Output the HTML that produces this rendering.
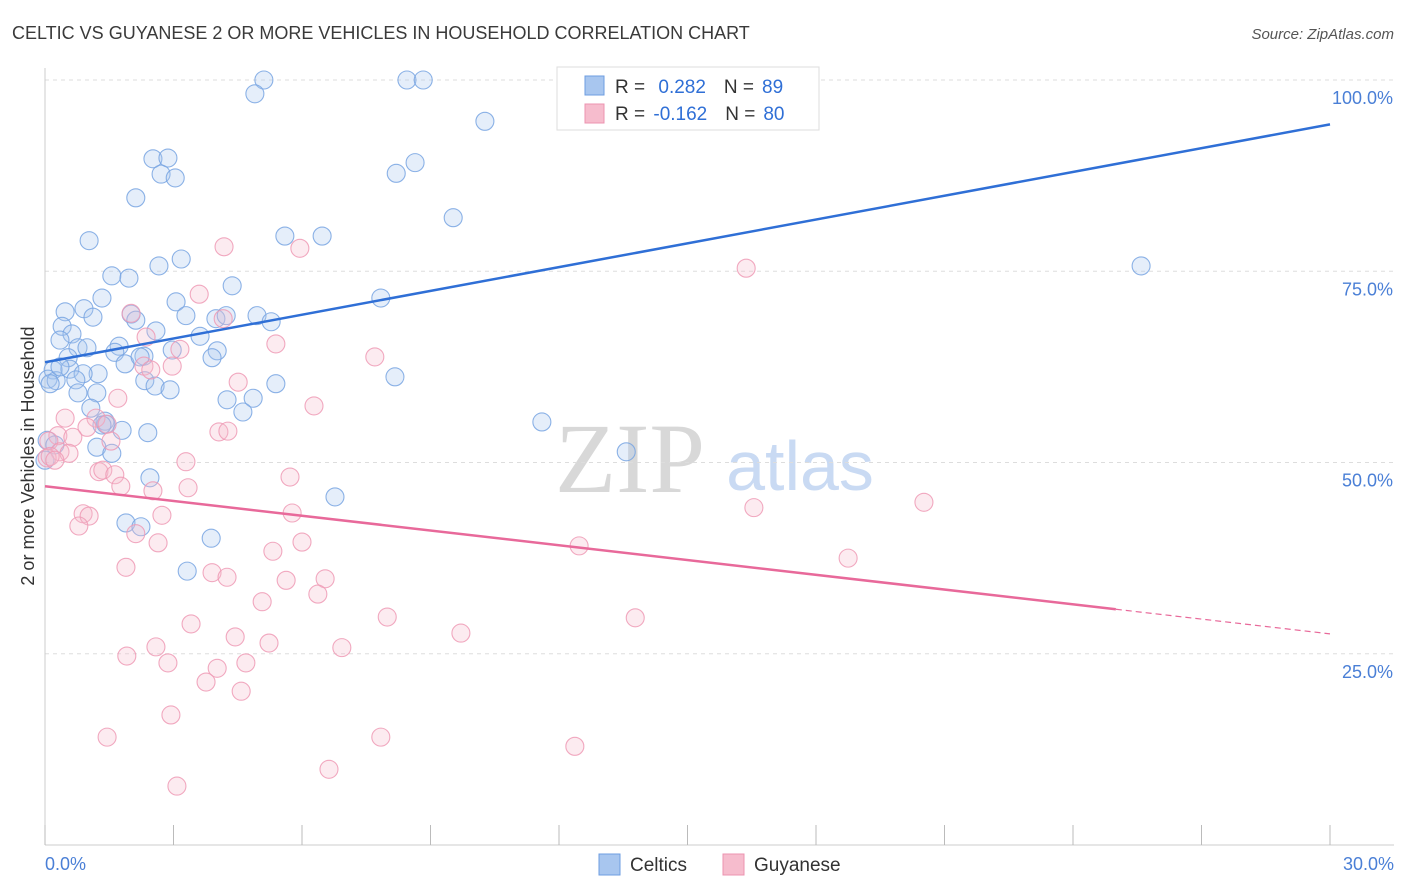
<!DOCTYPE html>
<html><head><meta charset="utf-8"><style>
body{margin:0;background:#fff;font-family:"Liberation Sans",sans-serif;}
#wrap{position:relative;width:1406px;height:892px;overflow:hidden;}
</style></head><body>
<div id="wrap">
<svg id="svg" width="1406" height="892" xmlns="http://www.w3.org/2000/svg">
<text x="12" y="39" font-size="18" fill="#3a3a3a">CELTIC VS GUYANESE 2 OR MORE VEHICLES IN HOUSEHOLD CORRELATION CHART</text>
<text x="1394" y="39" font-size="15" fill="#555" text-anchor="end" font-style="italic">Source: ZipAtlas.com</text>
<text x="34" y="456" font-size="18" fill="#333" text-anchor="middle" transform="rotate(-90 34 456)">2 or more Vehicles in Household</text>
<text x="630" y="492" font-size="100" fill="#d8d8d8" font-family="Liberation Serif,serif" text-anchor="middle">ZIP</text>
<text x="800" y="490" font-size="70" fill="#c9daf3" text-anchor="middle">atlas</text>
<g id="grid"></g><g id="pts"></g><g id="lines"></g>
</svg>
</div>
<script>
const xTicks=[0,30];
const yTicks=[25,50,75,100];
const celticX=[5.11,4.90,8.45,8.83,10.27,2.52,2.87,2.71,3.04,8.20,8.64,2.12,9.53,1.03,5.60,6.47,3.18,2.66,1.56,1.96,4.37,1.33,3.06,7.84,0.47,0.91,1.12,2.01,3.29,3.99,4.23,4.95,5.28,0.40,0.63,2.59,3.62,0.35,0.77,0.98,1.73,1.63,2.31,2.97,4.02,0.54,1.87,2.22,3.90,0.19,0.58,1.24,0.89,0.07,0.26,0.72,2.33,2.57,2.92,5.39,8.17,0.77,1.21,1.07,4.25,4.86,4.62,1.40,1.42,1.80,2.40,11.60,0.05,1.21,1.56,13.57,2.45,6.77,1.89,2.24,3.88,3.32,25.59,0.12,0.35,0.00,0.23,1.33,2.12];
const celticY=[100.0,98.2,100.0,100.0,94.6,89.7,89.8,87.7,87.2,87.8,89.2,84.6,82.0,79.0,79.6,79.6,76.6,75.7,74.4,74.1,73.1,71.5,71.0,71.5,69.7,70.1,69.0,69.4,69.2,68.8,69.2,69.2,68.4,67.8,66.8,67.2,66.5,66.0,65.0,65.0,65.2,64.4,63.9,64.7,64.6,63.7,62.9,63.8,63.7,62.1,62.2,61.6,61.6,60.9,60.7,60.8,60.7,60.0,59.5,60.3,61.2,59.1,59.1,57.1,58.2,58.4,56.6,55.4,55.0,54.2,53.9,55.3,52.9,52.0,51.2,51.4,48.0,45.5,42.1,41.6,40.1,35.8,75.7,60.3,62.5,50.3,52.3,54.9,68.6];
const guyX=[4.18,5.95,16.37,3.60,2.01,4.16,2.36,5.39,3.15,2.31,2.47,2.97,7.70,4.51,1.70,6.28,0.47,1.19,0.98,1.45,0.30,4.06,4.27,0.09,0.65,1.54,0.35,0.56,0.05,0.12,0.23,3.29,1.26,1.35,5.72,1.63,1.77,3.34,2.52,0.89,1.03,0.79,2.12,2.73,5.77,16.55,20.52,2.64,6.00,5.32,12.47,18.75,1.89,3.90,4.25,5.63,6.54,6.37,5.07,7.99,13.78,9.71,3.41,4.44,5.23,2.59,6.93,1.91,2.87,4.02,4.69,3.76,4.58,2.94,1.45,7.84,12.37,6.63,3.08];
const guyY=[78.2,78.0,75.4,72.0,69.5,68.8,66.4,65.5,64.8,62.6,62.1,62.6,63.8,60.5,58.4,57.4,55.8,55.8,54.6,55.0,53.5,54.0,54.1,52.8,53.3,52.8,51.4,51.2,50.6,50.8,50.3,50.1,48.8,49.0,48.1,48.4,46.9,46.7,46.3,43.3,43.0,41.7,40.7,43.1,43.4,44.1,44.8,39.5,39.6,38.4,39.1,37.5,36.3,35.6,35.0,34.6,34.8,32.8,31.8,29.8,29.7,27.7,28.9,27.2,26.4,25.9,25.8,24.7,23.8,23.1,23.8,21.3,20.1,17.0,14.1,14.1,12.9,9.9,7.7];
const celticFit=[63.1,94.2];
const guyFit=[46.9,27.6];
const X=v=>45+v/30*1285, Y=v=>845-v*7.65;
const NS="http://www.w3.org/2000/svg";
function mk(p,t,a){const e=document.createElementNS(NS,t);for(const k in a)e.setAttribute(k,a[k]);p.appendChild(e);return e;}
const grid=document.getElementById('grid'),pts=document.getElementById('pts'),lines=document.getElementById('lines');
yTicks.forEach(t=>{
 const l=mk(grid,'line',{x1:45,x2:1394,y1:Y(t),y2:Y(t),stroke:'#ddd','stroke-dasharray':'4,4'});
 
 
 const tx=mk(grid,'text',{x:1393,y:Y(t)+24,'font-size':18,fill:'#4a7fd6','text-anchor':'end'});tx.textContent=t.toFixed(1)+'%';
 
 
});
mk(grid,'line',{x1:45,x2:45,y1:68,y2:845,stroke:'#ccc'});
mk(grid,'line',{x1:45,x2:1394,y1:845,y2:845,stroke:'#ccc'});
for(let i=0;i<=10;i++){const x=X(i*3);const tk=mk(grid,'line',{x1:x,x2:x,y1:825,y2:845,stroke:'#bbb'});
 
 }
xTicks.forEach((t,i)=>{const tx=mk(grid,'text',{x:i?1394:45,y:870,'font-size':18,fill:'#4a7fd6','text-anchor':i?'end':'start'});tx.textContent=t.toFixed(1)+'%';
 
 });
function series(xs,ys,fill,stroke,name){xs.forEach((v,i)=>{const c=mk(pts,'circle',{cx:X(v),cy:Y(ys[i]),r:9,fill:fill,'fill-opacity':0.3,stroke:stroke,'stroke-opacity':0.85,'stroke-width':1.1});
 
 });}
series(celticX,celticY,'#a8c6ef','#78a4e2','celtic-point');
series(guyX,guyY,'#f6bccd','#ef9ab5','guyanese-point');
const bl=mk(lines,'line',{x1:X(0),y1:Y(celticFit[0]),x2:X(30),y2:Y(celticFit[1]),stroke:'#2f6fd6','stroke-width':2.5});


const gy=x=>guyFit[0]+(guyFit[1]-guyFit[0])*x/30;
const pl=mk(lines,'line',{x1:X(0),y1:Y(gy(0)),x2:X(25),y2:Y(gy(25)),stroke:'#e8699a','stroke-width':2.5});


const pd=mk(lines,'line',{x1:X(25),y1:Y(gy(25)),x2:X(30),y2:Y(gy(30)),stroke:'#e8699a','stroke-width':1.2,'stroke-dasharray':'6,4'});


</script>
<svg style="position:absolute;left:0;top:0" width="1406" height="892">
<g>
<rect x="557" y="67" width="262" height="63" fill="#fff" stroke="#ddd"/>
<rect x="585" y="76" width="19" height="19" fill="#a8c6ef" stroke="#6e9de0"/>
<rect x="585" y="104" width="19" height="19" fill="#f6bccd" stroke="#ec93b0"/>
<text x="615" y="93" font-size="19" fill="#333">R = <tspan fill="#2f6fd6" dx="8">0.282</tspan><tspan dx="18">N =</tspan><tspan fill="#2f6fd6" dx="8">89</tspan></text>
<text x="615" y="120" font-size="19" fill="#333">R = <tspan fill="#2f6fd6" dx="3">-0.162</tspan><tspan dx="18">N =</tspan><tspan fill="#2f6fd6" dx="8">80</tspan></text>
</g>
<g>
<rect x="599" y="854" width="21" height="21" fill="#a8c6ef" stroke="#6e9de0"/>
<text x="630" y="871" font-size="19" fill="#333">Celtics</text>
<rect x="723" y="854" width="21" height="21" fill="#f6bccd" stroke="#ec93b0"/>
<text x="754" y="871" font-size="19" fill="#333">Guyanese</text>
</g>
</svg>
</body></html>
